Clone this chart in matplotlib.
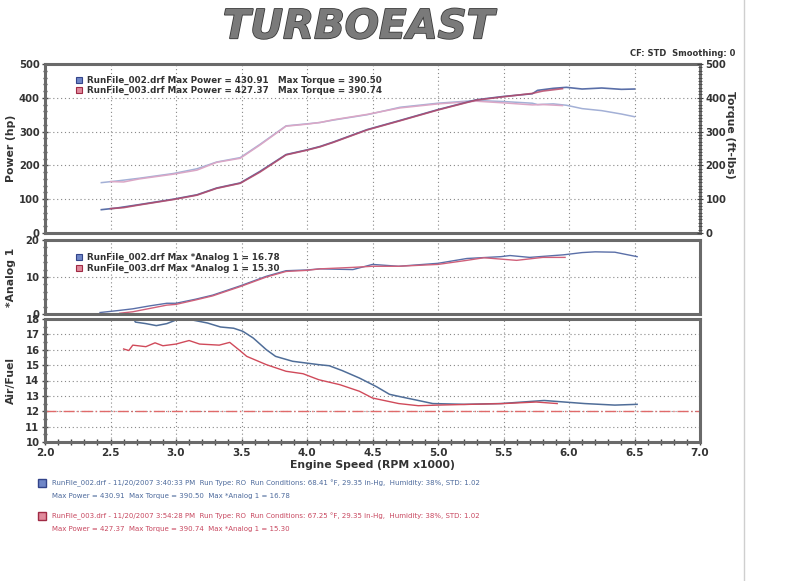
import numpy as np
import matplotlib.pyplot as plt
import matplotlib.patheffects as pe
from matplotlib.ticker import MultipleLocator

# ---- data ----
rpm_pwr_002 = [2.43, 2.55, 2.72, 2.98, 3.16, 3.31, 3.49, 3.64, 3.84, 4.0, 4.1, 4.2, 4.46, 4.71,
               5.0, 5.29, 5.5, 5.72, 5.76, 5.88, 5.98, 6.1, 6.25, 6.4, 6.5]
hp_002 = [69, 74, 84, 100, 113, 133, 148, 182, 232, 246, 256, 269, 306, 333,
          365, 394, 404, 412, 422, 428, 431, 426, 429, 425, 426]
tq_002 = [149, 154, 162, 176, 190, 210, 223, 262, 317, 323, 327, 334, 350, 372,
          384, 392, 389, 384, 380, 382, 378, 368, 362, 352, 344]

rpm_pwr_003 = [2.5, 2.6, 2.72, 2.98, 3.16, 3.31, 3.49, 3.64, 3.84, 4.0, 4.1, 4.2, 4.46, 4.71,
               5.0, 5.29, 5.5, 5.72, 5.8, 5.95]
hp_003 = [72, 75, 83, 99, 112, 132, 147, 180, 231, 245, 255, 268, 305, 332,
          364, 393, 403, 413, 420, 427]
tq_003 = [152, 151, 160, 174, 186, 209, 221, 260, 316, 322, 327, 335, 351, 370,
          382, 390, 385, 379, 380, 377]

rpm_an_002 = [2.42, 2.55, 2.67, 2.8, 2.93, 3.0, 3.15, 3.28, 3.49, 3.69, 3.84, 4.0, 4.1, 4.35,
              4.5, 4.7, 5.0, 5.22, 5.48, 5.55, 5.7, 5.96, 6.1, 6.2, 6.35, 6.52]
an_002 = [0.4, 0.9, 1.4, 2.2, 2.9, 2.9, 4.0, 5.1, 7.6, 10.2, 11.7, 11.9, 12.2, 12.0,
          13.4, 12.9, 13.7, 15.0, 15.5, 15.8, 15.3, 16.0, 16.6, 16.8, 16.7, 15.5]
rpm_an_003 = [2.57, 2.67, 2.8, 2.93, 3.0, 3.15, 3.28, 3.49, 3.69, 3.84, 4.0, 4.1, 4.35, 4.5,
              4.7, 5.0, 5.22, 5.35, 5.6, 5.8, 5.97]
an_003 = [0.2, 0.6, 1.5, 2.4, 2.6, 3.8, 4.9, 7.4, 10.0, 11.5, 11.8, 12.2, 12.6, 12.9,
          12.9, 13.4, 14.5, 15.2, 14.5, 15.3, 15.3]

rpm_afr_002 = [2.42, 2.6, 2.66, 2.69, 2.77, 2.85, 2.93, 2.99, 3.03, 3.09, 3.11, 3.24, 3.34, 3.44,
               3.51, 3.59, 3.69, 3.76, 3.89, 3.99, 4.09, 4.17, 4.27, 4.40, 4.53, 4.63, 4.71,
               4.85, 4.96, 5.2, 5.48, 5.81, 6.12, 6.35, 6.52]
afr_002 = [18.6, 18.6, 18.3, 17.8, 17.7, 17.57, 17.7, 17.9, 18.3, 18.3, 17.96, 17.74, 17.48, 17.4,
           17.2, 16.76, 16.0, 15.57, 15.25, 15.14, 15.03, 14.96, 14.64, 14.16, 13.6, 13.1, 12.95,
           12.7, 12.5, 12.45, 12.5, 12.7, 12.5, 12.4, 12.45]
rpm_afr_003 = [2.6, 2.64, 2.67, 2.77, 2.84, 2.9, 3.0, 3.1, 3.18, 3.33, 3.41, 3.48, 3.54, 3.69,
               3.84, 3.97, 4.09, 4.25, 4.4, 4.5, 4.7, 4.85, 5.0, 5.5, 5.75, 5.91]
afr_003 = [16.05, 15.95, 16.3, 16.2, 16.45, 16.26, 16.37, 16.6, 16.37, 16.3, 16.48, 16.0, 15.57, 15.03,
           14.6, 14.44, 14.05, 13.73, 13.3, 12.86, 12.5, 12.36, 12.4, 12.5, 12.6, 12.5]
afr_target = 12.0

blue = '#5a6fa8'
red = '#b84a6a'
blue_lt = '#a3b0d6'
red_lt = '#dba7c6'
grid_kw = dict(color='#888888', linestyle=(0, (1, 2.5)), linewidth=0.8)
frame = '#6a6a6a'
txt = '#333333'
lab_x = (16 - 45) / 655

fig = plt.figure(figsize=(8, 5.81), dpi=100)
fig.patch.set_facecolor('white')

L, W = 45 / 800, 655 / 800
ax1 = fig.add_axes([L, 1 - 233 / 581, W, 169 / 581])
ax2 = fig.add_axes([L, 1 - 314 / 581, W, 74 / 581])
ax3 = fig.add_axes([L, 1 - 442 / 581, W, 123 / 581])


def style(ax, ymax, ymin, major, minor):
    ax.set_xlim(2.0, 7.0)
    ax.set_ylim(ymin, ymax)
    ax.xaxis.set_major_locator(MultipleLocator(0.5))
    ax.xaxis.set_minor_locator(MultipleLocator(0.1))
    ax.yaxis.set_major_locator(MultipleLocator(major))
    ax.yaxis.set_minor_locator(MultipleLocator(minor))
    ax.grid(True, which='major', **grid_kw)
    for s in ax.spines.values():
        s.set_color(frame)
        s.set_linewidth(2.2)
    ax.tick_params(axis='y', which='both', direction='inout', length=5, width=1, color='#444444',
                   labelsize=7.2, pad=1.5, labelcolor=txt)
    ax.tick_params(axis='y', which='minor', length=3)
    ax.tick_params(axis='x', which='both', length=0, labelbottom=False)
    for t in ax.get_yticklabels():
        t.set_fontweight('bold')


def badge(ax, x, y, fc, ec, transform):
    ax.plot([x], [y], transform=transform, marker='s', ms=5, mfc=fc, mec=ec, mew=0.8, clip_on=False)


# ---- power / torque ----
style(ax1, 500, 0, 100, 20)
ax1.plot(rpm_pwr_002, tq_002, color=blue_lt, lw=1.1)
ax1.plot(rpm_pwr_003, tq_003, color=red_lt, lw=1.1)
ax1.plot(rpm_pwr_002, hp_002, color=blue, lw=1.2)
ax1.plot(rpm_pwr_003, hp_003, color=red, lw=1.2, alpha=0.85)
ax1.set_ylabel('Power (hp)', fontsize=7.8, fontweight='bold', color=txt)
ax1.yaxis.set_label_coords(lab_x, 0.5)
ax1r = ax1.twinx()
ax1r.set_ylim(0, 500)
ax1r.yaxis.set_major_locator(MultipleLocator(100))
ax1r.yaxis.set_minor_locator(MultipleLocator(10))
ax1r.tick_params(axis='y', which='both', direction='inout', length=5, color='#444444',
                 labelsize=7.2, pad=1.5, labelcolor=txt)
ax1r.tick_params(axis='y', which='minor', length=3)
for t in ax1r.get_yticklabels():
    t.set_fontweight('bold')
for s in ax1r.spines.values():
    s.set_visible(False)
ax1r.set_ylabel('Torque (ft-lbs)', fontsize=7.8, fontweight='bold', rotation=-90, color=txt, va='center')
ax1r.yaxis.set_label_coords((730 - 45) / 655, 0.58)

leg_fs = 6.3
ax1.text(0.0641, 0.905, 'RunFile_002.drf Max Power = 430.91', transform=ax1.transAxes,
         fontsize=leg_fs, fontweight='bold', color=txt, va='center')
ax1.text(0.0641, 0.845, 'RunFile_003.drf Max Power = 427.37', transform=ax1.transAxes,
         fontsize=leg_fs, fontweight='bold', color=txt, va='center')
ax1.text(0.355, 0.905, 'Max Torque = 390.50', transform=ax1.transAxes,
         fontsize=leg_fs, fontweight='bold', color=txt, va='center')
ax1.text(0.355, 0.845, 'Max Torque = 390.74', transform=ax1.transAxes,
         fontsize=leg_fs, fontweight='bold', color=txt, va='center')
badge(ax1, 0.052, 0.905, '#6f86c7', '#33448a', ax1.transAxes)
badge(ax1, 0.052, 0.845, '#e08a9c', '#a02a44', ax1.transAxes)

# ---- analog ----
style(ax2, 20, 0, 10, 2)
ax2.plot(rpm_an_002, an_002, color=blue, lw=1.0)
ax2.plot(rpm_an_003, an_003, color='#d0607a', lw=1.0)
ax2.set_ylabel('*Analog 1', fontsize=7.8, fontweight='bold', color=txt)
ax2.yaxis.set_label_coords(lab_x, 0.5)
ax2.text(0.0641, 0.77, 'RunFile_002.drf Max *Analog 1 = 16.78', transform=ax2.transAxes,
         fontsize=leg_fs, fontweight='bold', color=txt, va='center')
ax2.text(0.0641, 0.62, 'RunFile_003.drf Max *Analog 1 = 15.30', transform=ax2.transAxes,
         fontsize=leg_fs, fontweight='bold', color=txt, va='center')
badge(ax2, 0.052, 0.77, '#6f86c7', '#33448a', ax2.transAxes)
badge(ax2, 0.052, 0.62, '#e08a9c', '#a02a44', ax2.transAxes)

# ---- air / fuel ----
style(ax3, 18, 10, 1, 0.5)
ax3.tick_params(axis='x', which='both', direction='inout', length=5, width=1, color='#444444',
                labelbottom=True, labelsize=7.5, labelcolor=txt, pad=2)
ax3.tick_params(axis='x', which='minor', length=4)
ax3.axhline(afr_target, color='#e06a6a', lw=1.0, linestyle=(0, (8, 2, 1, 2)))
ax3.plot(rpm_afr_002, afr_002, color='#4f6d98', lw=1.1)
ax3.plot(rpm_afr_003, afr_003, color='#d04a5a', lw=1.0)
ax3.set_ylabel('Air/Fuel', fontsize=7.8, fontweight='bold', color=txt)
ax3.yaxis.set_label_coords(lab_x, 0.5)
ax3.set_xlabel('Engine Speed (RPM x1000)', fontsize=7.8, fontweight='bold', color=txt, labelpad=1)
for t in ax3.get_xticklabels():
    t.set_fontweight('bold')

# ---- header / footer ----
fig.text(0.448, 0.953, 'TURBOEAST', fontsize=29, style='italic', color='#7a7a7a',
         ha='center', va='center', fontweight='bold',
         path_effects=[pe.withStroke(linewidth=1.2, foreground='#3a3a3a')])
fig.text(0.919, 1 - 54 / 581, 'CF: STD  Smoothing: 0', fontsize=6.0, fontweight='bold',
         color=txt, ha='right', va='center')

foot_fs = 5.0
fig.text(0.065, 1 - 483 / 581, 'RunFile_002.drf - 11/20/2007 3:40:33 PM  Run Type: RO  Run Conditions: 68.41 \u00b0F, 29.35 in-Hg,  Humidity: 38%, STD: 1.02',
         fontsize=foot_fs, color='#4d6a9c', va='center')
fig.text(0.065, 1 - 496 / 581, 'Max Power = 430.91  Max Torque = 390.50  Max *Analog 1 = 16.78',
         fontsize=foot_fs, color='#4d6a9c', va='center')
fig.text(0.065, 1 - 516 / 581, 'RunFile_003.drf - 11/20/2007 3:54:28 PM  Run Type: RO  Run Conditions: 67.25 \u00b0F, 29.35 in-Hg,  Humidity: 38%, STD: 1.02',
         fontsize=foot_fs, color='#c84860', va='center')
fig.text(0.065, 1 - 529 / 581, 'Max Power = 427.37  Max Torque = 390.74  Max *Analog 1 = 15.30',
         fontsize=foot_fs, color='#c84860', va='center')
fig.lines.append(plt.Line2D([0.0525], [1 - 483 / 581], transform=fig.transFigure, marker='s', ms=6,
                            mfc='#6f86c7', mec='#33448a'))
fig.lines.append(plt.Line2D([0.0525], [1 - 516 / 581], transform=fig.transFigure, marker='s', ms=6,
                            mfc='#e08a9c', mec='#a02a44'))
# page edge of the scan
fig.lines.append(plt.Line2D([0.93, 0.93], [0.0, 1.0], transform=fig.transFigure, color='#cfcfcf', lw=1))

fig.savefig('out.png', dpi=100, facecolor='white')
